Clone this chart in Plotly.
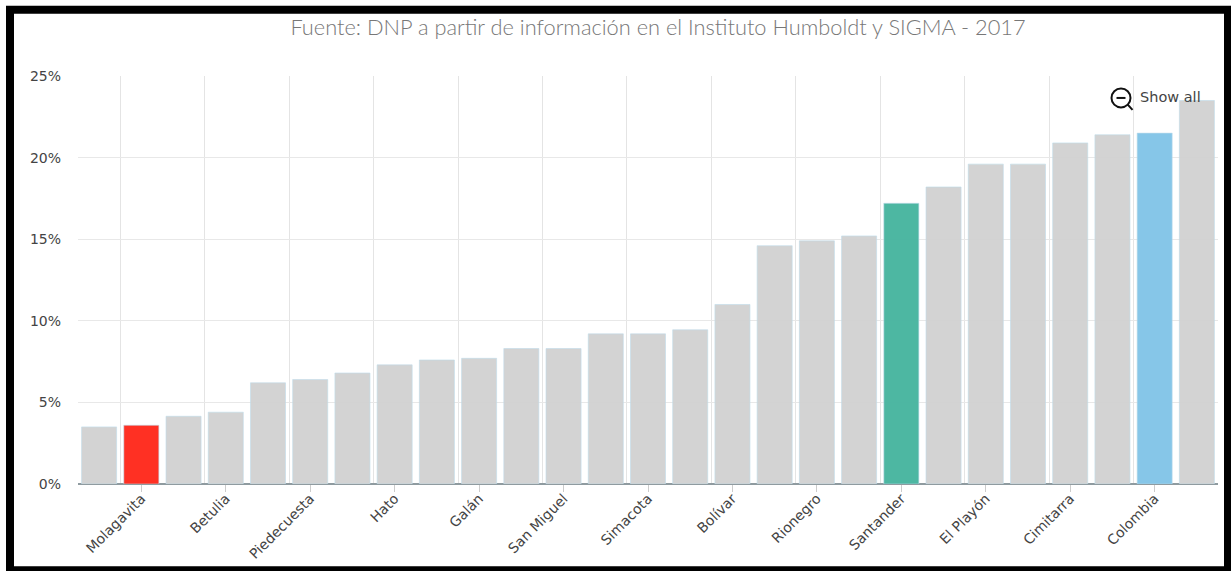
import plotly.graph_objects as go

values = [3.5, 3.6, 4.15, 4.4, 6.2, 6.4, 6.8, 7.3, 7.6, 7.7, 8.3, 8.3, 9.2, 9.2,
          9.45, 11.0, 14.6, 14.9, 15.2, 17.2, 18.2, 19.6, 19.6, 20.9, 21.4, 21.5, 23.5]
label_names = ["Molagavita", "Betulia", "Piedecuesta", "Hato", "Galán", "San Miguel", "Simacota",
               "Bolívar", "Rionegro", "Santander", "El Playón", "Cimitarra", "Colombia"]
label_positions = list(range(1, 27, 2))
highlights = {1: "#ff2a1c", 19: "#48b5a0", 25: "#83c5e8"}
title_text = "Fuente: DNP a partir de información en el Instituto Humboldt y SIGMA - 2017"
y_ticks = [0, 5, 10, 15, 20, 25]

W, H = 1231, 571
L, R, T, B = 78, 1218, 75.5, 484.5
def px(v): return (v - L) / (R - L)
def py(v): return (B - v) / (B - T)

colors = [highlights.get(i, "#d2d2d2") for i in range(len(values))]
fig = go.Figure(go.Bar(
    x=list(range(len(values))), y=values, width=0.83,
    marker=dict(color=colors, opacity=0.97, line=dict(color="rgba(190,220,235,0.6)", width=1)),
    hoverinfo="skip",
))
shapes = [
    dict(type="rect", xref="paper", yref="paper", x0=px(10), x1=px(1228), y0=py(571), y1=py(9),
         line=dict(color="black", width=8), layer="above"),
    dict(type="circle", xref="paper", yref="paper", x0=px(1111.5), x1=px(1130.5), y0=py(107), y1=py(88),
         line=dict(color="#111", width=2)),
    dict(type="line", xref="paper", yref="paper", x0=px(1127.5), x1=px(1132.5), y0=py(104), y1=py(109.5),
         line=dict(color="#111", width=2)),
    dict(type="line", xref="paper", yref="paper", x0=px(1116.5), x1=px(1125.5), y0=py(97.5), y1=py(97.5),
         line=dict(color="#111", width=2)),
]
fig.update_layout(
    width=W, height=H, autosize=False,
    margin=dict(l=L, r=W - R, t=T, b=H - B, autoexpand=False),
    paper_bgcolor="white", plot_bgcolor="white", showlegend=False, shapes=shapes,
    font=dict(family="DejaVu Sans", size=14, color="#444"),
    title=dict(text=title_text, x=(291 + 1025) / 2 / W, xanchor="center", y=1 - 27 / H, yanchor="middle",
               font=dict(family="Lato", size=21.8, color="#777", weight=300)),
    xaxis=dict(range=[-0.5, 26.5], tickmode="array", tickvals=label_positions, ticktext=label_names,
               automargin=False, tickangle=-45, ticks="outside", ticklen=7, tickcolor="#ccc",
               ticklabelstandoff=-7, showgrid=False, zeroline=False, showline=False,
               minor=dict(tickmode="array", tickvals=[i + 0.5 for i in range(0, 27, 2)],
                          showgrid=True, gridcolor="#e4e4e4", gridwidth=1, ticks="")),
    yaxis=dict(range=[0, 25], tickmode="array", tickvals=y_ticks, ticktext=[f"{v}%" for v in y_ticks],
               automargin=False, showgrid=True, gridcolor="#e8e8e8", gridwidth=1, zeroline=True,
               zerolinecolor="#8f9ba0", zerolinewidth=2, ticks="", ticklabelstandoff=16),
    annotations=[dict(text="Show all", xref="paper", yref="paper", x=px(1138), y=py(97), xanchor="left",
                      yanchor="middle", showarrow=False, font=dict(family="DejaVu Sans", size=14.5, color="#444"))],
)
fig.write_html("out.html", post_script="document.body.style.margin='0';", config={"displayModeBar": False})
